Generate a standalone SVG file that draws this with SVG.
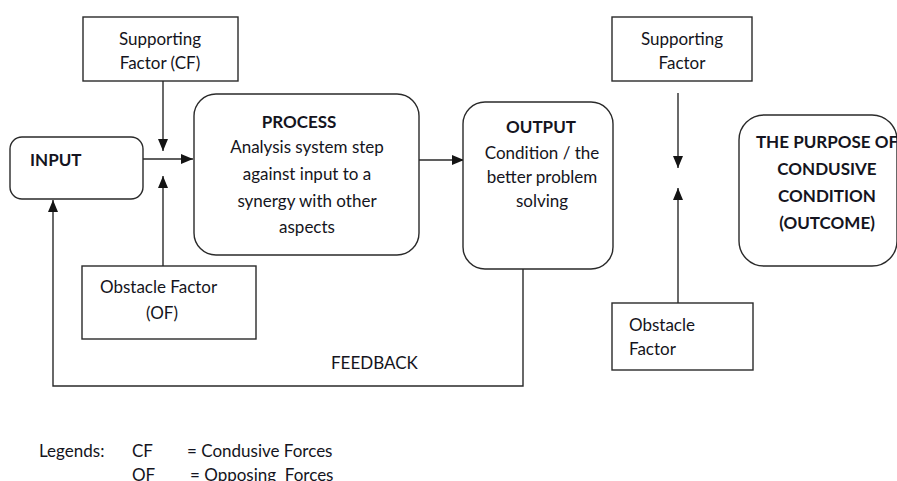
<svg xmlns="http://www.w3.org/2000/svg" width="897" height="481" viewBox="0 0 897 481">
  <style>
    text { font-family: Lato, "Liberation Sans", sans-serif; font-size: 17px; fill: #141420; }
    .b { font-weight: bold; }
    .c { text-anchor: middle; }
    .box { fill: #ffffff; stroke: #2a2a2a; stroke-width: 1.4; }
    .wire { fill: none; stroke: #2a2a2a; stroke-width: 1.4; }
  </style>
  <defs>
    <marker id="arrow" markerUnits="userSpaceOnUse" markerWidth="13" markerHeight="11" refX="12" refY="5" orient="auto">
      <path d="M0,0 L12,5 L0,10 z" fill="#141414"/>
    </marker>
  </defs>
  <rect width="897" height="481" fill="#ffffff"/>

  <!-- connectors -->
  <g id="connectors">
    <line class="wire" x1="143" y1="159" x2="193" y2="159" marker-end="url(#arrow)"/>
    <line class="wire" x1="163" y1="81" x2="163" y2="151" marker-end="url(#arrow)"/>
    <line class="wire" x1="163" y1="266" x2="163" y2="176" marker-end="url(#arrow)"/>
    <line class="wire" x1="419" y1="160" x2="464" y2="160" marker-end="url(#arrow)"/>
    <line class="wire" x1="678" y1="93" x2="678" y2="168" marker-end="url(#arrow)"/>
    <line class="wire" x1="678" y1="303" x2="678" y2="188" marker-end="url(#arrow)"/>
    <polyline class="wire" points="523,269 523,386 53,386 53,200" marker-end="url(#arrow)"/>
    <text x="331" y="369">FEEDBACK</text>
  </g>

  <g id="supporting-cf">
    <rect class="box" x="83" y="17" width="155" height="64"/>
    <text class="c" x="160" y="45">Supporting</text>
    <text class="c" x="160" y="69">Factor (CF)</text>
  </g>

  <g id="input">
    <rect class="box" x="10" y="137" width="133" height="62" rx="12"/>
    <text class="b" x="30" y="166">INPUT</text>
  </g>

  <g id="process">
    <rect class="box" x="194" y="94" width="225" height="161" rx="22"/>
    <text class="b c" x="299" y="128">PROCESS</text>
    <text class="c" x="307" y="153">Analysis system step</text>
    <text class="c" x="307" y="180">against input to a</text>
    <text class="c" x="307" y="207">synergy with other</text>
    <text class="c" x="307" y="233">aspects</text>
  </g>

  <g id="output">
    <rect class="box" x="463" y="102" width="150" height="167" rx="22"/>
    <text class="b c" x="541" y="133">OUTPUT</text>
    <text class="c" x="542" y="159">Condition / the</text>
    <text class="c" x="542" y="183">better problem</text>
    <text class="c" x="542" y="207">solving</text>
  </g>

  <g id="supporting">
    <rect class="box" x="612" y="17" width="140" height="64"/>
    <text class="c" x="682" y="45">Supporting</text>
    <text class="c" x="682" y="69">Factor</text>
  </g>

  <g id="outcome">
    <rect class="box" x="739" y="115" width="158" height="151" rx="25"/>
    <text class="b c" x="827" y="148">THE PURPOSE OF</text>
    <text class="b c" x="827" y="175">CONDUSIVE</text>
    <text class="b c" x="827" y="202">CONDITION</text>
    <text class="b c" x="827" y="229">(OUTCOME)</text>
  </g>

  <g id="obstacle-of">
    <rect class="box" x="82" y="266" width="174" height="73"/>
    <text x="100" y="293">Obstacle Factor</text>
    <text class="c" x="162" y="319">(OF)</text>
  </g>

  <g id="obstacle">
    <rect class="box" x="612" y="303" width="141" height="67"/>
    <text x="629" y="331">Obstacle</text>
    <text x="629" y="355">Factor</text>
  </g>

  <g id="legend">
    <text x="39" y="457">Legends:</text>
    <text x="132" y="457">CF</text>
    <text x="187" y="457">= Condusive Forces</text>
    <text x="132" y="481">OF</text>
    <text x="190" y="481" xml:space="preserve">= Opposing  Forces</text>
  </g>
</svg>
